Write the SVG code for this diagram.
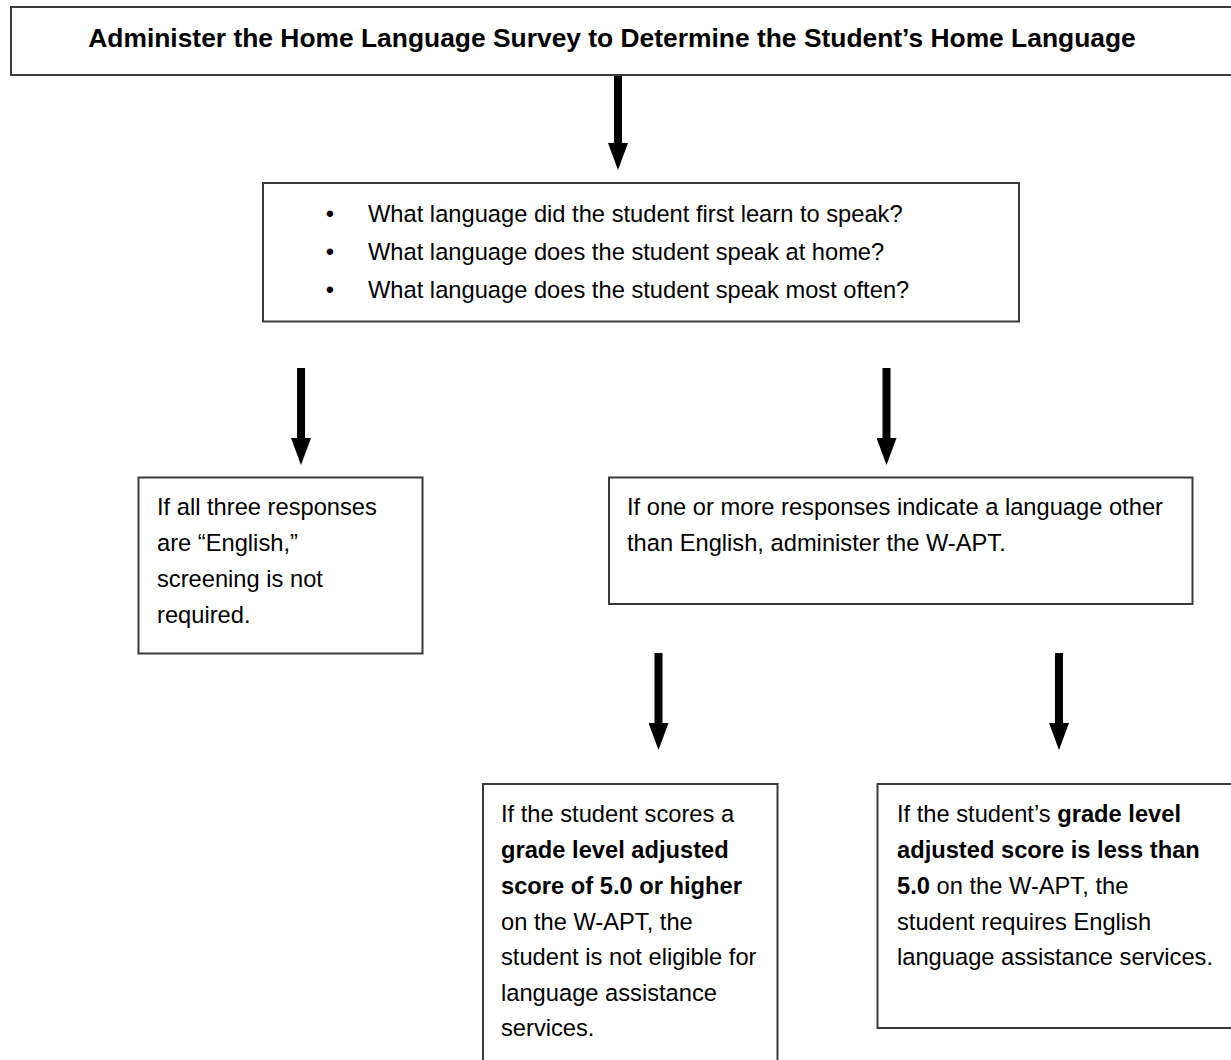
<svg xmlns="http://www.w3.org/2000/svg" width="1231" height="1060" viewBox="0 0 1231 1060">
<defs>
<style>
.box{fill:#fff;stroke:#3a3a3a;stroke-width:2}
.t{font-family:"Liberation Sans",Arial,sans-serif;font-size:23.7px;fill:#000}
.b{font-weight:bold}
.title{font-family:"Liberation Sans",Arial,sans-serif;font-size:26.4px;font-weight:bold;fill:#000}
.arr{stroke:#000;stroke-width:8;fill:none;marker-end:url(#ah)}
</style>
<marker id="ah" viewBox="0 0 27 20" refX="1" refY="10" markerWidth="27" markerHeight="20" markerUnits="userSpaceOnUse" orient="auto">
<path d="M0,0 L27,10 L0,20 z" fill="#000"/>
</marker>
</defs>
<rect width="1231" height="1060" fill="#fff"/>
<g id="connectors">
<line class="arr" x1="618" y1="75" x2="618" y2="144"/>
<line class="arr" x1="301" y1="368" x2="301" y2="439"/>
<line class="arr" x1="886.5" y1="368" x2="886.5" y2="439"/>
<line class="arr" x1="658.5" y1="653" x2="658.5" y2="724"/>
<line class="arr" x1="1059" y1="653" x2="1059" y2="724"/>
</g>
<g id="n-title">
<rect class="box" x="11" y="7" width="1240" height="68"/>
<text class="title" x="612" y="47" text-anchor="middle">Administer the Home Language Survey to Determine the Student’s Home Language</text>
</g>
<g id="n-questions">
<rect class="box" x="263" y="183" width="756" height="138.5"/>
<text class="t" x="330" y="222" text-anchor="middle">•</text>
<text class="t" x="330" y="260" text-anchor="middle">•</text>
<text class="t" x="330" y="298" text-anchor="middle">•</text>
<text class="t" x="368" y="222">What language did the student first learn to speak?</text>
<text class="t" x="368" y="260">What language does the student speak at home?</text>
<text class="t" x="368" y="298">What language does the student speak most often?</text>
</g>
<g id="n-english">
<rect class="box" x="138.5" y="477.5" width="284" height="176"/>
<text class="t" x="157" y="515">If all three responses</text>
<text class="t" x="157" y="550.5">are “English,”</text>
<text class="t" x="157" y="586.5">screening is not</text>
<text class="t" x="157" y="622.5">required.</text>
</g>
<g id="n-other">
<rect class="box" x="609" y="477.5" width="583.5" height="126.5"/>
<text class="t" x="627" y="515">If one or more responses indicate a language other</text>
<text class="t" x="627" y="550.5">than English, administer the W-APT.</text>
</g>
<g id="n-high">
<rect class="box" x="483" y="784" width="294.5" height="300"/>
<text class="t" x="501" y="821.5">If the student scores a</text>
<text class="t b" x="501" y="857.5">grade level adjusted</text>
<text class="t b" x="501" y="893.5">score of 5.0 or higher</text>
<text class="t" x="501" y="929.5">on the W-APT, the</text>
<text class="t" x="501" y="965">student is not eligible for</text>
<text class="t" x="501" y="1000.5">language assistance</text>
<text class="t" x="501" y="1036">services.</text>
</g>
<g id="n-low">
<rect class="box" x="877.5" y="784" width="380" height="244"/>
<text class="t" x="897" y="821.5">If the student’s <tspan class="b">grade level</tspan></text>
<text class="t b" x="897" y="857.5">adjusted score is less than</text>
<text class="t" x="897" y="893.5"><tspan class="b">5.0</tspan> on the W-APT, the</text>
<text class="t" x="897" y="929.5">student requires English</text>
<text class="t" x="897" y="965">language assistance services.</text>
</g>
</svg>
